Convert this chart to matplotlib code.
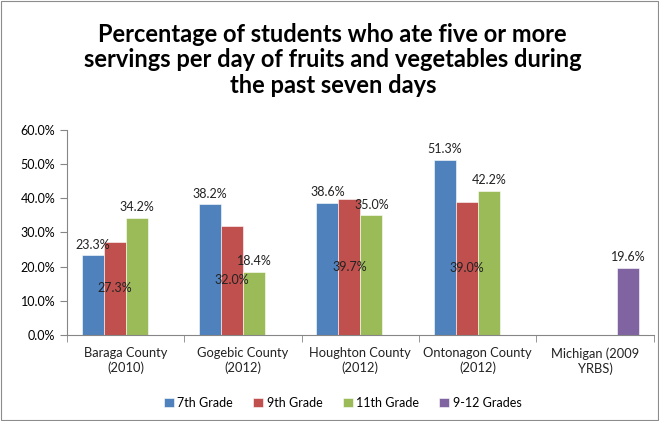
import numpy as np
import matplotlib.pyplot as plt
from matplotlib.patches import Rectangle

# Datele graficului
categorii = ['Baraga County\n(2010)', 'Gogebic County\n(2012)', 'Houghton County\n(2012)',
             'Ontonagon County\n(2012)', 'Michigan (2009\nYRBS)']
serii = ['7th Grade', '9th Grade', '11th Grade', '9-12 Grades']
grad7 = [23.3, 38.2, 38.6, 51.3, None]
grad9 = [27.3, 32.0, 39.7, 39.0, None]
grad11 = [34.2, 18.4, 35.0, 42.2, None]
grad912 = [None, None, None, None, 19.6]
culori = ['#4F81BD', '#C0504D', '#9BBB59', '#8064A2']
# pozitia etichetei ca in Excel: deasupra sau in mijlocul barei
pozitii = ['out', 'center', 'out', 'out']

plt.rcParams['font.family'] = ['Lato', 'DejaVu Sans']

fig = plt.figure(figsize=(6.59, 4.21), dpi=100)
ax = fig.add_axes([0.1017, 0.2043, 0.8903, 0.4869])

x = np.arange(len(categorii))
latime = 0.1875
for i, (valori, nume) in enumerate(zip([grad7, grad9, grad11, grad912], serii)):
    xs = [xx + (i - 1.5) * latime for xx, v in zip(x, valori) if v is not None]
    vs = [v for v in valori if v is not None]
    bare = ax.bar(xs, vs, width=latime, color=culori[i], label=nume,
                  edgecolor='white', linewidth=0.4)
    for b, v in zip(bare, vs):
        cx = b.get_x() + b.get_width() / 2
        if pozitii[i] == 'center':
            ax.text(cx, v / 2, f'{v:.1f}%', ha='center', va='center', fontsize=9, color='#222222')
        else:
            ax.text(cx, v + 1.4, f'{v:.1f}%', ha='center', va='bottom', fontsize=9, color='#222222')

ax.set_xlim(-0.5, len(categorii) - 0.5)
ax.set_ylim(0, 60)
ax.set_yticks(np.arange(0, 61, 10))
ax.set_yticklabels([f'{t:.1f}%' for t in np.arange(0, 61, 10)], fontsize=9)
ax.set_xticks(x)
ax.set_xticklabels(categorii, fontsize=9.3, color='#222222')
ax.tick_params(axis='x', length=0, pad=9)
ax.set_xticks(np.arange(-0.5, len(categorii)), minor=True)
ax.tick_params(axis='x', which='minor', length=5, color='#868686')
ax.tick_params(axis='y', length=5, color='#868686', direction='out')
for s in ['top', 'right']:
    ax.spines[s].set_visible(False)
for s in ['left', 'bottom']:
    ax.spines[s].set_color('#868686')

fig.text(0.505, 0.945, 'Percentage of students who ate five or more\n'
         'servings per day of fruits and vegetables during\nthe past seven days',
         ha='center', va='top', fontsize=17, fontweight='bold', linespacing=1.12)

fig.legend(loc='center', bbox_to_anchor=(0.52, 0.043), ncol=4, frameon=False,
           fontsize=9, handlelength=0.8, handleheight=0.8, handletextpad=0.3,
           columnspacing=1.6)

fig.patches.append(Rectangle((0.002, 0.002), 0.996, 0.996, transform=fig.transFigure,
                             fill=False, edgecolor='#8c8c8c', linewidth=0.8))

fig.savefig('out.png', dpi=100)
